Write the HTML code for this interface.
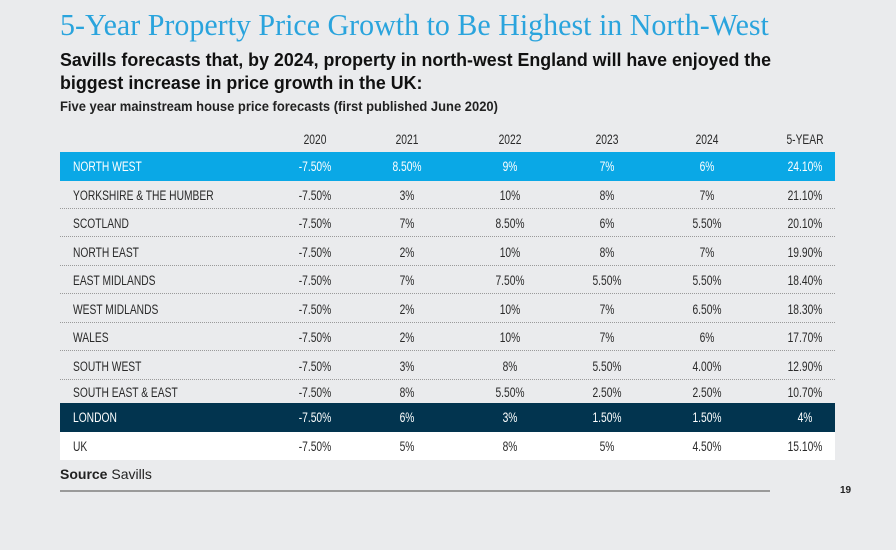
<!DOCTYPE html>
<html><head><style>
body{margin:0;width:896px;height:550px;background:#eaebed;position:relative;overflow:hidden;font-family:"Liberation Sans",sans-serif;}
.t{position:absolute;white-space:nowrap;}
.row{position:absolute;left:60px;width:775px;height:28px;border-bottom:1px dotted #9a9a9a;box-sizing:border-box;font-family:"Liberation Sans",sans-serif;font-size:13.5px;color:#2a2a2a;}
.row span{position:absolute;top:7px;white-space:nowrap;transform:translateX(-50%) scaleX(0.76);}
.row span.n{left:13px;transform:scaleX(0.76);transform-origin:0 0;}
</style></head><body>
<div class="t" style="left:60px;top:7px;font-family:'Liberation Serif',serif;font-size:31px;color:#2aa4dd;transform:scaleX(0.967);transform-origin:0 0;">5-Year Property Price Growth to Be Highest in North-West</div>
<div class="t" style="left:60px;top:49px;font-size:18px;font-weight:bold;color:#111;line-height:23px;transform:scaleX(0.99);transform-origin:0 0;">Savills forecasts that, by 2024, property in north-west England will have enjoyed the<br>biggest increase in price growth in the UK:</div>
<div class="t" style="left:60px;top:99px;font-size:13.5px;font-weight:bold;color:#222;transform:scaleX(0.96);transform-origin:0 0;">Five year mainstream house price forecasts (first published June 2020)</div>
<div id="tb"></div>
<div class="t" style="left:60px;top:466px;font-size:14px;color:#222;"><b>Source</b> Savills</div>
<div style="position:absolute;left:60px;top:490px;width:710px;height:2px;background:#9a9a9a;"></div>
<div class="t" style="left:840px;top:485px;font-size:10px;font-weight:bold;color:#222;">19</div>
<script>
var cols=[315,407,510,607,707,805];
var data=[
["","2020","2021","2022","2023","2024","5-YEAR"],
["NORTH WEST","-7.50%","8.50%","9%","7%","6%","24.10%"],
["YORKSHIRE &amp; THE HUMBER","-7.50%","3%","10%","8%","7%","21.10%"],
["SCOTLAND","-7.50%","7%","8.50%","6%","5.50%","20.10%"],
["NORTH EAST","-7.50%","2%","10%","8%","7%","19.90%"],
["EAST MIDLANDS","-7.50%","7%","7.50%","5.50%","5.50%","18.40%"],
["WEST MIDLANDS","-7.50%","2%","10%","7%","6.50%","18.30%"],
["WALES","-7.50%","2%","10%","7%","6%","17.70%"],
["SOUTH WEST","-7.50%","3%","8%","5.50%","4.00%","12.90%"],
["SOUTH EAST &amp; EAST","-7.50%","8%","5.50%","2.50%","2.50%","10.70%"],
["LONDON","-7.50%","6%","3%","1.50%","1.50%","4%"],
["UK","-7.50%","5%","8%","5%","4.50%","15.10%"]];
var tops=[125,152,181,209,238,266,295,323,352,380,403,432];
var h="";
data.forEach(function(r,i){
 var st="top:"+tops[i]+"px;";
 if(i==0)st+="border:none;";
 if(i==1)st+="background:#0aa8e6;color:#fff;border:none;height:29px;";
 if(i==9)st+="border:none;height:23px;";
 if(i==10)st+="background:#02344f;color:#fff;border:none;height:29px;";
 if(i==11)st+="background:#fff;border:none;";
 var tp=(i==9)?'top:5px;':'';
 h+='<div class="row" style="'+st+'">';
 r.forEach(function(c,j){ if(j==0)h+='<span class="n" style="'+tp+'">'+c+'</span>'; else h+='<span style="'+tp+'left:'+(cols[j-1]-60)+'px">'+c+'</span>';});
 h+='</div>';
});
document.getElementById("tb").innerHTML=h;
</script>
</body></html>
